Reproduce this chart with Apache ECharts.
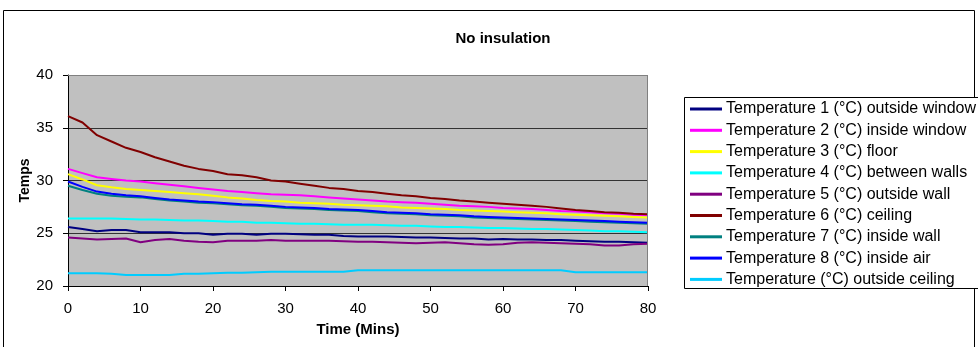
<!DOCTYPE html>
<html>
<head>
<meta charset="utf-8">
<script src="https://cdn.jsdelivr.net/npm/echarts@6/dist/echarts.min.js"></script>
<style>
html,body{margin:0;padding:0;background:#fff;}
#chart{width:978px;height:347px;}
</style>
</head>
<body>
<div id="chart"></div>
<script>
const minutes = [0,2,4,6,8,10,12,14,16,18,20,22,24,26,28,30,32,34,36,38,40,42,44,46,48,50,52,54,56,58,60,62,64,66,68,70,72,74,76,78,80];

const t1 = [25.6,25.4,25.2,25.3,25.3,25.1,25.1,25.1,25.0,25.0,24.85,24.95,24.95,24.85,24.95,24.95,24.9,24.85,24.85,24.75,24.7,24.7,24.7,24.65,24.6,24.6,24.55,24.5,24.5,24.4,24.45,24.4,24.4,24.35,24.35,24.3,24.25,24.2,24.2,24.15,24.1];
const t2 = [31.1,30.7,30.3,30.15,30.0,29.9,29.75,29.6,29.45,29.3,29.15,29.0,28.9,28.8,28.7,28.65,28.6,28.5,28.4,28.3,28.2,28.1,28.0,27.95,27.9,27.8,27.7,27.6,27.55,27.5,27.4,27.35,27.3,27.2,27.1,27.05,27.0,26.9,26.85,26.75,26.7];
const t3 = [30.6,30.1,29.55,29.35,29.2,29.1,29.0,28.9,28.8,28.7,28.55,28.4,28.3,28.15,28.05,28.0,27.9,27.85,27.8,27.7,27.65,27.6,27.55,27.45,27.4,27.35,27.3,27.2,27.15,27.1,27.05,27.0,26.95,26.9,26.8,26.75,26.7,26.65,26.6,26.55,26.5];
const t4 = [26.4,26.4,26.4,26.4,26.35,26.3,26.3,26.25,26.2,26.2,26.15,26.1,26.1,26.0,26.0,25.95,25.9,25.9,25.85,25.8,25.8,25.8,25.75,25.7,25.7,25.65,25.6,25.6,25.55,25.5,25.5,25.45,25.4,25.4,25.35,25.3,25.25,25.2,25.2,25.15,25.1];
const t5 = [24.6,24.5,24.4,24.45,24.5,24.15,24.35,24.45,24.3,24.2,24.15,24.3,24.3,24.3,24.35,24.3,24.3,24.3,24.3,24.25,24.2,24.2,24.15,24.1,24.05,24.1,24.15,24.05,23.95,23.9,23.95,24.1,24.15,24.1,24.05,24.0,23.95,23.85,23.85,23.95,24.0];
const t6 = [36.1,35.5,34.3,33.7,33.1,32.7,32.2,31.8,31.4,31.1,30.9,30.6,30.5,30.3,30.0,29.9,29.7,29.5,29.3,29.2,29.0,28.9,28.75,28.6,28.5,28.35,28.25,28.1,28.0,27.9,27.8,27.7,27.6,27.5,27.35,27.2,27.1,27.0,26.95,26.85,26.8];
const t7 = [29.5,29.1,28.75,28.55,28.45,28.4,28.25,28.1,28.0,27.9,27.85,27.75,27.65,27.6,27.5,27.4,27.35,27.3,27.2,27.15,27.1,27.0,26.9,26.85,26.8,26.7,26.65,26.6,26.5,26.45,26.4,26.35,26.3,26.25,26.2,26.15,26.1,26.05,26.0,25.95,25.9];
const t8 = [29.9,29.4,28.95,28.75,28.6,28.5,28.35,28.2,28.1,28.0,27.95,27.85,27.75,27.7,27.6,27.5,27.45,27.4,27.3,27.25,27.2,27.1,27.0,26.95,26.9,26.8,26.75,26.7,26.6,26.55,26.5,26.45,26.4,26.35,26.3,26.25,26.2,26.15,26.1,26.05,26.0];
const t9 = [21.2,21.2,21.2,21.15,21.05,21.05,21.05,21.05,21.15,21.15,21.2,21.25,21.25,21.3,21.35,21.35,21.35,21.35,21.35,21.35,21.5,21.5,21.5,21.5,21.5,21.5,21.5,21.5,21.5,21.5,21.5,21.5,21.5,21.5,21.5,21.3,21.3,21.3,21.3,21.3,21.3];

const seriesNames = [
  'Temperature 1 (°C) outside window',
  'Temperature 2 (°C) inside window',
  'Temperature 3 (°C) floor',
  'Temperature 4 (°C) between walls',
  'Temperature 5 (°C) outside wall',
  'Temperature 6 (°C) ceiling',
  'Temperature 7 (°C) inside wall',
  'Temperature 8 (°C) inside air',
  'Temperature (°C) outside ceiling'
];
const seriesValues = [t1,t2,t3,t4,t5,t6,t7,t8,t9];
const seriesColors = ['#000080','#FF00FF','#FFFF00','#00FFFF','#800080','#800000','#008080','#0000FF','#00CCFF'];

const yTicks = [20,25,30,35,40];
const xTicks = [0,10,20,30,40,50,60,70,80];

const font = 'Arial, "Liberation Sans", sans-serif';

const chart = echarts.init(document.getElementById('chart'), null, {renderer:'canvas'});

const series = seriesNames.map((name, i) => ({
  name: name,
  type: 'line',
  data: minutes.map((m, j) => [m, seriesValues[i][j]]),
  showSymbol: false,
  symbol: 'none',
  smooth: false,
  lineStyle: {color: seriesColors[i], width: 2},
  itemStyle: {color: seriesColors[i]},
  animation: false,
  z: 3
}));

chart.setOption({
  animation: false,
  title: {
    text: 'No insulation',
    left: 498,
    top: 26,
    textAlign: 'center',
    textStyle: {fontFamily: font, fontSize: 15, fontWeight: 'bold', color: '#000'}
  },
  graphic: [
    {type:'rect', shape:{x:3.5, y:10.5, width:971, height:345}, style:{fill:'none', stroke:'#000', lineWidth:1}, z:-1},
    {type:'rect', shape:{x:684.5, y:97.5, width:300, height:191}, style:{fill:'#fff', stroke:'#000', lineWidth:1}, z:-1},
    {type:'line', shape:{x1:68, y1:75.5, x2:648, y2:75.5}, style:{stroke:'#808080', lineWidth:1}, z:10},
    {type:'line', shape:{x1:647.5, y1:75, x2:647.5, y2:286}, style:{stroke:'#808080', lineWidth:1}, z:10}
  ],
  legend: {
    orient: 'vertical',
    left: 690,
    top: 101,
    itemWidth: 32,
    itemHeight: 3,
    itemGap: 5.3,
    icon: 'rect',
    padding: 0,
    data: seriesNames,
    textStyle: {fontFamily: font, fontSize: 16, color: '#000', lineHeight: 16, padding: [0,0,0,-1]},
    selectedMode: false
  },
  grid: {
    left: 68, right: 330, top: 75, bottom: 61,
    show: true, backgroundColor: '#C0C0C0', borderWidth: 0
  },
  xAxis: {
    type: 'value',
    min: 0, max: 80, interval: 10,
    name: 'Time (Mins)',
    nameLocation: 'middle',
    nameGap: 36,
    nameMoveOverlap: false,
    nameTextStyle: {fontFamily: font, fontSize: 15, fontWeight: 'bold', color: '#000'},
    axisLine: {show: true, lineStyle: {color: '#000', width: 1}},
    axisTick: {show: true, length: 5, inside: false, lineStyle: {color: '#000'}},
    axisLabel: {fontFamily: font, fontSize: 15, color: '#000', margin: 15},
    splitLine: {show: false}
  },
  yAxis: {
    type: 'value',
    min: 20, max: 40, interval: 5,
    name: 'Temps',
    nameLocation: 'middle',
    nameGap: 36,
    nameMoveOverlap: false,
    nameTextStyle: {fontFamily: font, fontSize: 14, fontWeight: 'bold', color: '#000'},
    axisLine: {show: true, lineStyle: {color: '#000', width: 1}},
    axisTick: {show: true, length: 5, inside: false, lineStyle: {color: '#000'}},
    axisLabel: {fontFamily: font, fontSize: 15, color: '#000', margin: 15},
    splitLine: {show: true, lineStyle: {color: '#333', width: 1}}
  },
  series: series
});
</script>
</body>
</html>
